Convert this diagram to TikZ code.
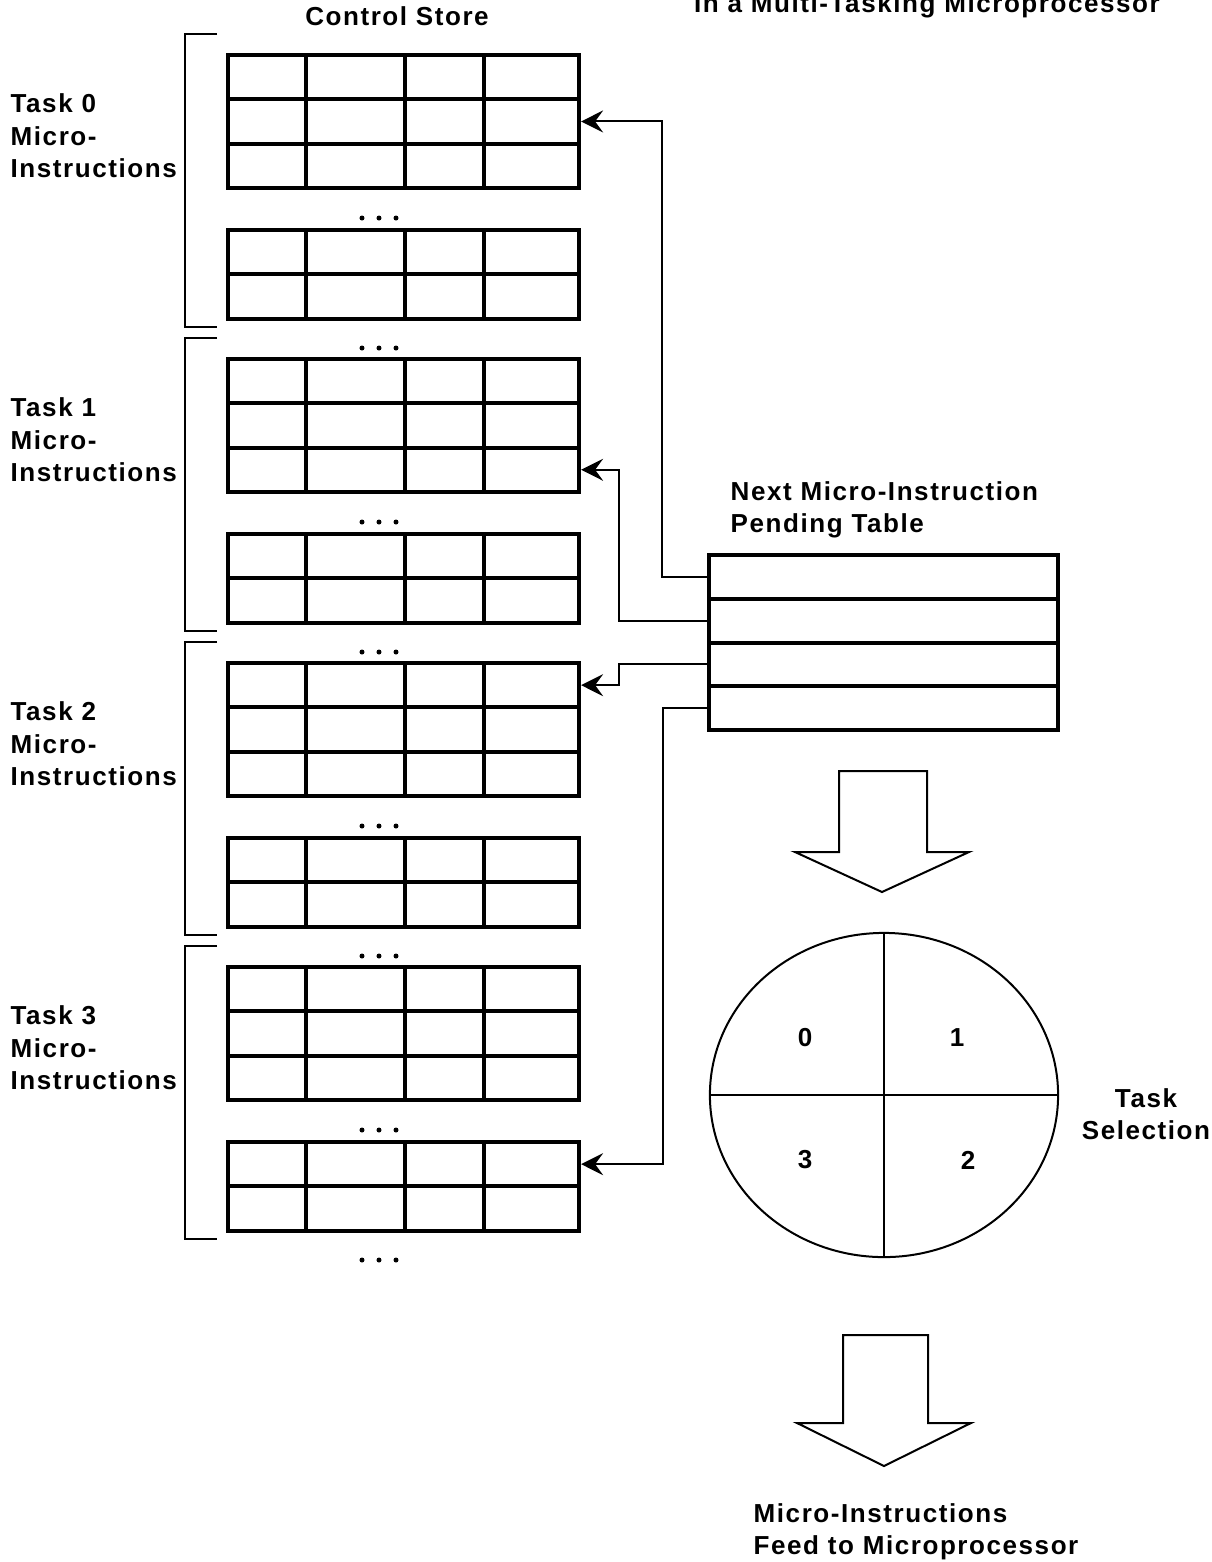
\documentclass[tikz,border=0pt]{standalone}
\usepackage{fontspec}
\setmainfont{Liberation Sans}[LetterSpace=6]
\usetikzlibrary{arrows.meta,shapes.geometric}

% one table of the control store: #1 name, #2 top edge, #3 number of rows
\newcommand\gridtable[3]{%
  \foreach \r in {1,...,#3}
    \node[cellrow] (#1-\r) at (403.5,{#2+(\r-0.5)*44.3}) {};
  \foreach \c in {306,405,484}
    \draw[gridline] (\c,#2) -- (\c,{#2+#3*44.3});
}
% three dots marking omitted entries
\newcommand\ellipsisdots[1]{%
  \foreach \dx in {-17,0,17}
    \fill (379+\dx,#1) circle (0.025cm);
}

\begin{document}
\begin{tikzpicture}[x=0.01cm,y=-0.01cm,
  every node/.style={font=\bfseries\fontsize{7.4pt}{9.2pt}\selectfont,
    inner sep=0pt},
  cellrow/.style={draw, line width=0.04cm, minimum width=3.51cm,
    minimum height=0.443cm},
  gridline/.style={line width=0.04cm},
  pendrow/.style={draw, line width=0.04cm, minimum width=3.49cm,
    minimum height=0.4375cm},
  conn/.style={line width=0.02cm,
    -{Stealth[length=0.22cm,width=0.22cm,inset=0.08cm]}},
  bracket/.style={line width=0.02cm},
  blockarrow/.style={line width=0.02cm, line join=miter},
  thinline/.style={line width=0.02cm},
  ]
\useasboundingbox (0,0) rectangle (1212,1562);
\clip (0,0) rectangle (1212,1562);

% titles
\node (cs) at (397,16) {Control Store};
\node[anchor=base] (ttl) at (927,12) {In a Multi-Tasking Microprocessor};

% control store: four task regions
\foreach \g/\T in {0/55,1/359,2/663,3/967} {
  \gridtable{A\g}{\T}{3}
  \gridtable{B\g}{\T+175}{2}
  \ellipsisdots{\T+163}
  \draw[bracket] (217,\T-21) -- (185,\T-21) -- (185,\T+272) -- (217,\T+272);
  \node[anchor=west, align=left] (lbl\g) at (10,\T+81)
    {Task \g\\Micro-\\Instructions};
}
\foreach \T in {359,663,967} { \ellipsisdots{\T-11} }
\ellipsisdots{1260}

% next micro-instruction pending table
\node[anchor=west, align=left] (ptitle) at (730,510)
  {Next Micro-Instruction\\Pending Table};
\foreach \r in {1,...,4}
  \node[pendrow] (P\r) at (883.5,{555+(\r-0.5)*43.75}) {};

% pointers from the pending table into the control store
\draw[conn] (P1.west) -- ++(-45,0) |- (A0-2.east);
\draw[conn] (P2.west) -- ++(-88,0) |- (A1-3.east);
\draw[conn] (P3.west) -- ++(-88,0) |- (A2-1.east);
\draw[conn] (P4.west) -- ++(-44,0) |- (B3-1.east);

% block arrows
\draw[blockarrow] (839,771) -- (927,771) -- (927,852) -- (969,852)
  -- (882,892) -- (795,852) -- (839,852) -- cycle;
\draw[blockarrow] (843,1335) -- (928,1335) -- (928,1423) -- (971,1423)
  -- (884,1466) -- (797,1423) -- (843,1423) -- cycle;

% task selection wheel
\node[draw, ellipse, line width=0.02cm, minimum width=3.48cm,
  minimum height=3.24cm, outer sep=0pt] (sel) at (884,1095) {};
\draw[thinline] (sel.north) -- (sel.south);
\draw[thinline] (sel.west) -- (sel.east);
\node (q0) at (805,1038) {0};
\node (q1) at (957,1038) {1};
\node (q3) at (805,1160) {3};
\node (q2) at (968,1160) {2};
\node[align=center] (tsel) at (1146,1114) {Task\\Selection};

% output label
\node[anchor=west, align=left] (feed) at (753,1532)
  {Micro-Instructions\\Feed to Microprocessor};
\end{tikzpicture}
\end{document}
